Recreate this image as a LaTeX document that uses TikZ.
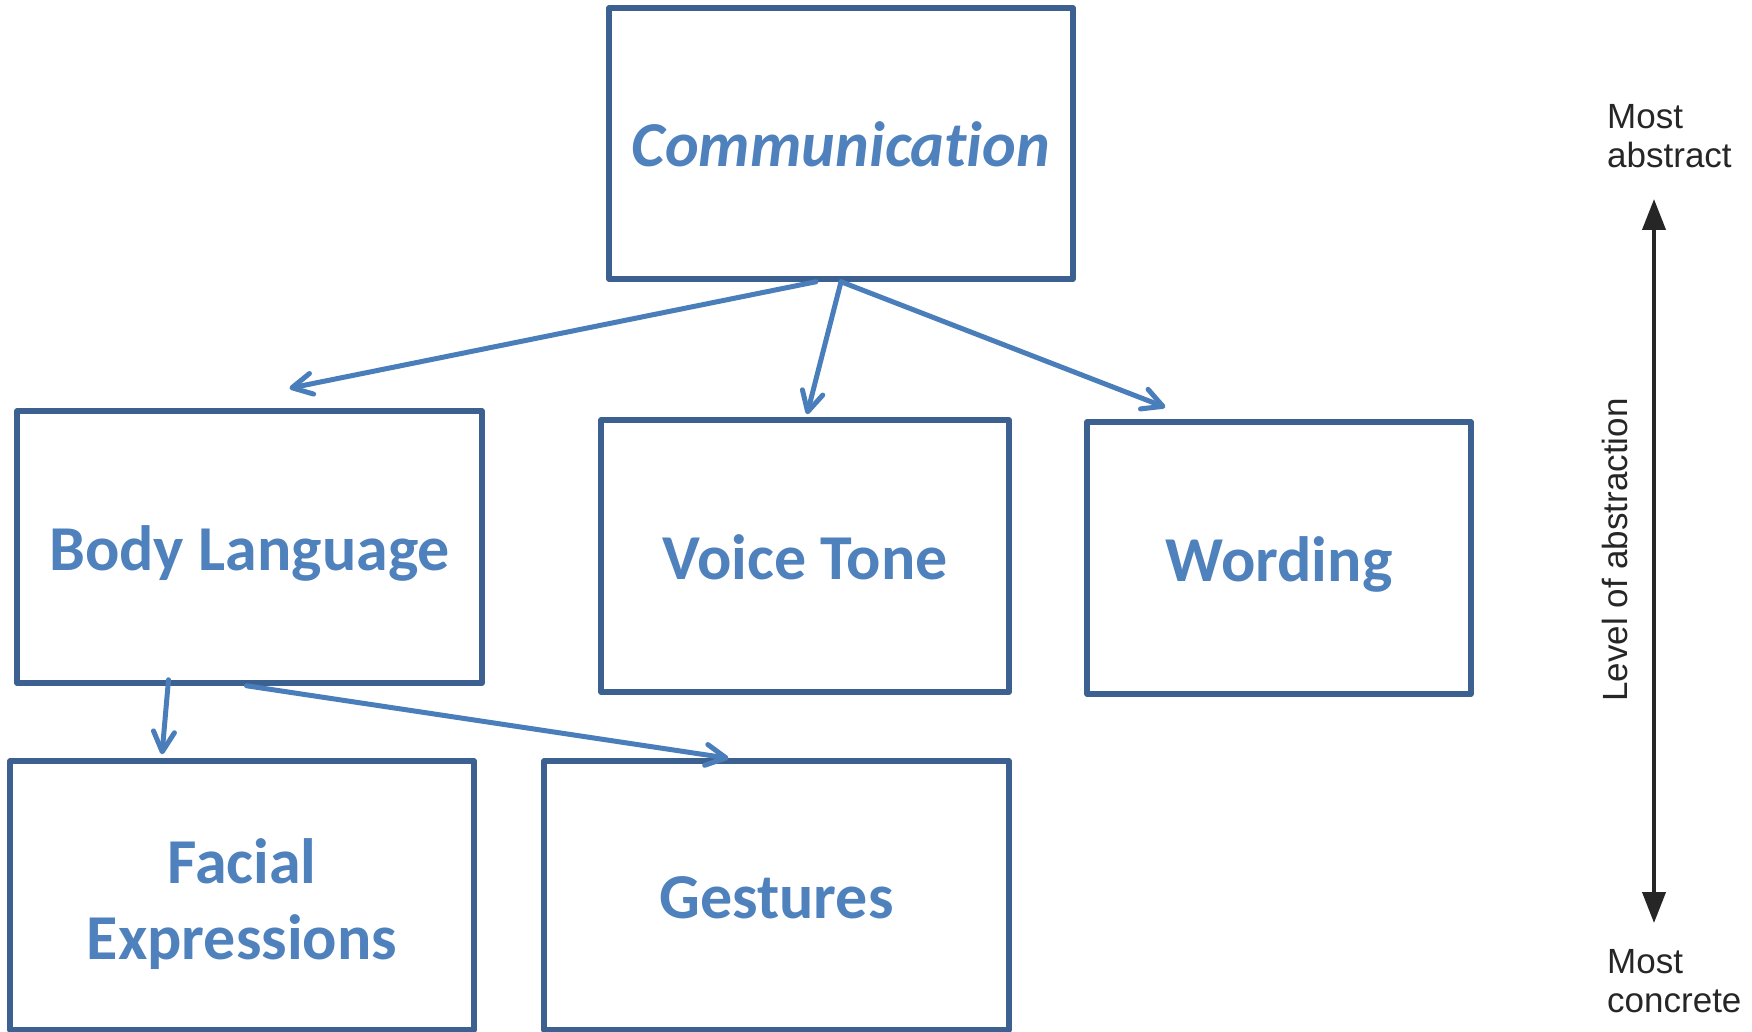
\documentclass[tikz,border=0pt]{standalone}
\usepackage{fontspec}
\setmainfont{Carlito}[Ligatures=NoCommon]
\newfontfamily\axisfont{Liberation Sans}
\usetikzlibrary{arrows.meta,calc}
\definecolor{labelblue}{HTML}{4F81BD}
\definecolor{boxblue}{HTML}{3C6190}
\definecolor{linkblue}{HTML}{4A7EBB}
\definecolor{axisgray}{HTML}{262626}

\begin{document}
\begin{tikzpicture}[x=1pt,y=-1pt,
  concept/.style={draw=boxblue, line width=5.5pt, rectangle, inner sep=0pt,
    align=center, text=labelblue, line join=round,
    text height=46pt, text depth=0pt,
    font=\fontsize{64}{76}\selectfont\bfseries},
  link/.style={draw=linkblue, line width=5pt, line cap=round,
    -{Straight Barb[length=20pt,width=21pt,line cap=round,line join=round]}},
  axisfontsize/.style={text=axisgray, font=\axisfont\fontsize{35}{39}\selectfont, inner sep=0pt},
  axislabel/.style={axisfontsize, align=left, anchor=north west},
  axisline/.style={draw=axisgray, line width=4pt,
    {Triangle[length=31pt,width=23pt]}-{Triangle[length=31pt,width=23pt]}}]

\useasboundingbox (0,0) rectangle (1752,1032);

% concept boxes
\node[concept, minimum width=464pt, minimum height=271pt] (comm)   at (841,143.5) {\itshape Communication};
\node[concept, minimum width=465pt, minimum height=272pt] (body)   at (249.5,547) {Body Language};
\node[concept, minimum width=408pt, minimum height=272pt] (voice)  at (805,556)   {Voice Tone};
\node[concept, minimum width=384pt, minimum height=272pt] (word)   at (1279,558)  {Wording};
\node[concept, minimum width=464pt, minimum height=269pt,
  text height=127pt, text depth=0pt] (facial) at (242,895.5) {Facial\\Expressions};
\node[concept, minimum width=465pt, minimum height=269pt] (gest)   at (776.5,895.5) {Gestures};

% hierarchy links
\draw[link] ($(comm.south)+(-25,0)$) -- ($(body.north)+(40,-20)$);
\draw[link] (comm.south) -- ($(voice.north)+(2,-3)$);
\draw[link] (comm.south) -- ($(word.north west)+(81,-12)$);
\draw[link] ($(body.south)+(-81,-6)$) -- ($(facial.north)+(-80,-4)$);
\draw[link] ($(body.south)+(-3,0)$) -- ($(gest.north)+(-48,0)$);

% abstraction scale
\coordinate (scaletop) at (1654,199);
\coordinate (scalebottom) at (1654,923);
\draw[axisline] (scaletop) -- (scalebottom);
\node[axislabel] (abstract) at (1607,104) {Most\\abstract};
\node[axislabel] (concrete) at (1607,949) {Most\\concrete};
\node[axisfontsize, rotate=90, anchor=base] (level) at (1627,550) {Level of abstraction};
\end{tikzpicture}
\end{document}
